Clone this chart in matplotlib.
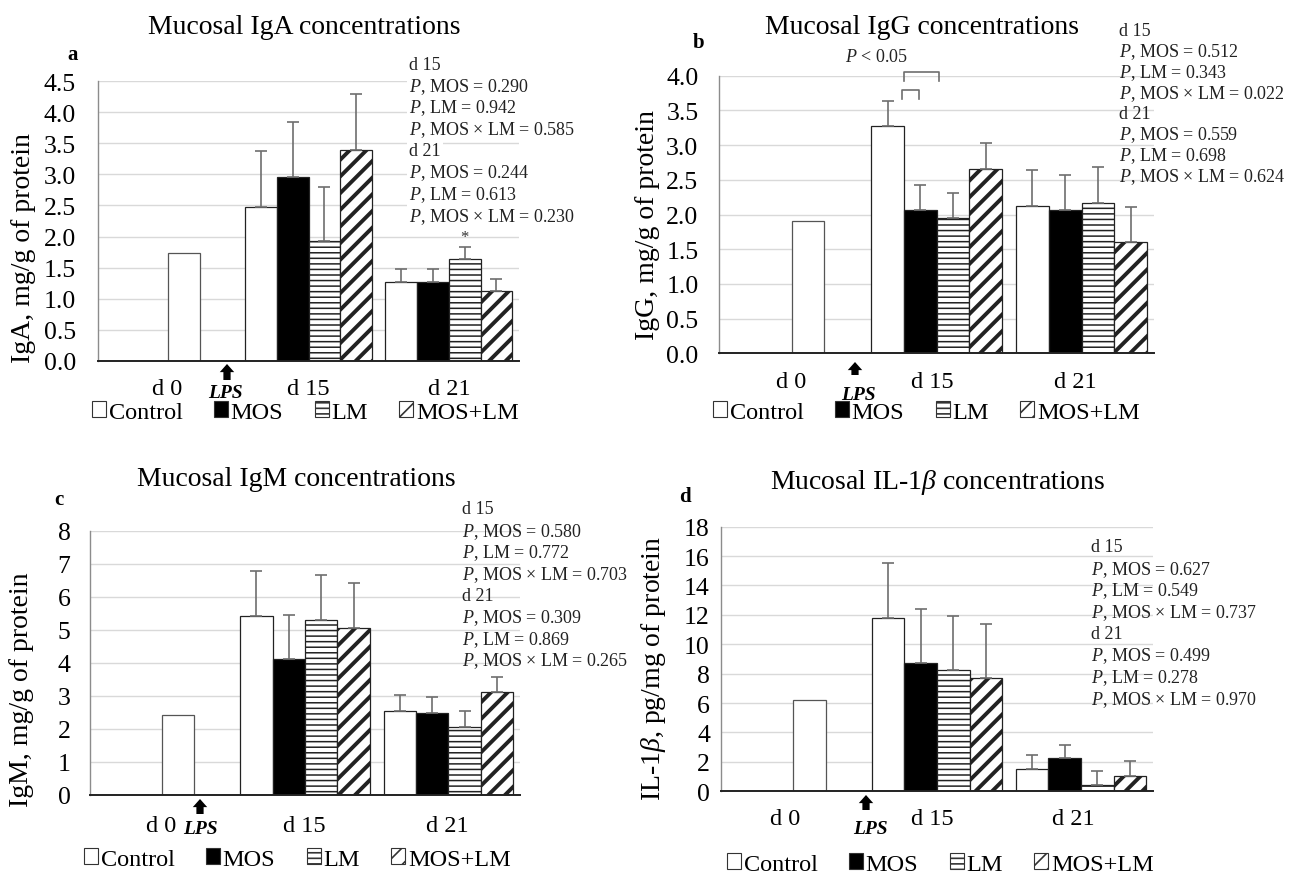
import matplotlib
matplotlib.use("Agg")
import matplotlib.pyplot as plt
from matplotlib.patches import Patch, FancyArrowPatch

plt.rcParams["font.family"] = ["Liberation Serif", "DejaVu Serif"]
plt.rcParams["mathtext.fontset"] = "custom"
plt.rcParams["mathtext.rm"] = "Liberation Serif"
plt.rcParams["mathtext.it"] = "Liberation Serif:italic"
plt.rcParams["hatch.linewidth"] = 1.2

W, H = 1289, 879

groups = ["Control", "MOS", "LM", "MOS+LM"]
days = ["d 0", "d 15", "d 21"]

iga_d0 = 1.74
iga_d15 = [2.48, 2.96, 1.92, 3.40]
iga_d15_se = [0.89, 0.89, 0.88, 0.89]
iga_d21 = [1.26, 1.26, 1.63, 1.12]
iga_d21_se = [0.21, 0.21, 0.20, 0.20]

igg_d0 = 1.90
igg_d15 = [3.27, 2.06, 1.95, 2.66]
igg_d15_se = [0.37, 0.37, 0.36, 0.37]
igg_d21 = [2.12, 2.06, 2.17, 1.60]
igg_d21_se = [0.52, 0.51, 0.51, 0.51]

igm_d0 = 2.43
igm_d15 = [5.42, 4.13, 5.30, 5.05]
igm_d15_se = [1.36, 1.33, 1.36, 1.37]
igm_d21 = [2.53, 2.49, 2.07, 3.12]
igm_d21_se = [0.49, 0.48, 0.46, 0.46]

il_d0 = 6.23
il_d15 = [11.78, 8.70, 8.23, 7.68]
il_d15_se = [3.74, 3.70, 3.69, 3.67]
il_d21 = [1.52, 2.24, 0.45, 1.07]
il_d21_se = [0.95, 0.93, 0.96, 0.98]

stats_a = ["d 15", "$P$, MOS = 0.290", "$P$, LM = 0.942", "$P$, MOS × LM = 0.585",
           "d 21", "$P$, MOS = 0.244", "$P$, LM = 0.613", "$P$, MOS × LM = 0.230"]
stats_b = ["d 15", "$P$, MOS = 0.512", "$P$, LM = 0.343", "$P$, MOS × LM = 0.022",
           "d 21", "$P$, MOS = 0.559", "$P$, LM = 0.698", "$P$, MOS × LM = 0.624"]
stats_c = ["d 15", "$P$, MOS = 0.580", "$P$, LM = 0.772", "$P$, MOS × LM = 0.703",
           "d 21", "$P$, MOS = 0.309", "$P$, LM = 0.869", "$P$, MOS × LM = 0.265"]
stats_d = ["d 15", "$P$, MOS = 0.627", "$P$, LM = 0.549", "$P$, MOS × LM = 0.737",
           "d 21", "$P$, MOS = 0.499", "$P$, LM = 0.278", "$P$, MOS × LM = 0.970"]

faces = ["white", "black", "white", "white"]
hatches = [None, None, "---", "//"]
hatch_lw = [1.0, 1.0, 1.1, 2.8]
bw = 0.226
offs = [(i - 1.5) * bw for i in range(4)]

fig = plt.figure(figsize=(W / 100, H / 100), dpi=100)


def px_axes(l, r, t, b):
    return fig.add_axes([l / W, 1 - b / H, (r - l) / W, (b - t) / H])


def ftext(x, y, s, **kw):
    kw.setdefault("va", "center")
    return fig.text(x / W, 1 - y / H, s, **kw)


def style_bar(p, i):
    if hatches[i]:
        p.set_hatch(hatches[i])
    if hasattr(p, "set_hatch_linewidth"):
        p.set_hatch_linewidth(hatch_lw[i])


def panel(ax, d0, d15, d15_se, d21, d21_se, ymax, step, fmt, pad):
    # d0 has only the control value, drawn in the third slot
    ax.bar(0 + offs[2], d0, bw, color="white", edgecolor="#555555", lw=0.9, zorder=2)
    for i in range(4):
        vals = [d15[i], d21[i]]
        errs = [d15_se[i], d21_se[i]]
        bars = ax.bar([1 + offs[i], 2 + offs[i]], vals, bw, color=faces[i],
                      edgecolor="#222222", lw=0.9, zorder=2)
        for p in bars:
            style_bar(p, i)
        ax.errorbar([1 + offs[i], 2 + offs[i]], vals, yerr=[[0, 0], errs],
                    fmt="none", ecolor="#6e6e6e", elinewidth=1.2, capsize=4,
                    capthick=1.2, zorder=3)
    ax.set_xlim(-0.5, 2.5)
    ax.set_ylim(0, ymax)
    ticks = [k * step for k in range(int(round(ymax / step)) + 1)]
    ax.set_yticks(ticks)
    ax.set_yticklabels([fmt.format(t) for t in ticks])
    ax.set_xticks([])
    ax.tick_params(axis="y", length=0, labelsize=18.5, pad=pad)
    ax.grid(axis="y", color="#d9d9d9", lw=1.0, zorder=0)
    ax.set_axisbelow(True)
    for s in ["top", "right"]:
        ax.spines[s].set_visible(False)
    ax.spines["left"].set_color("#8c8c8c")
    ax.spines["left"].set_linewidth(1.0)
    ax.spines["bottom"].set_color("#222222")
    ax.spines["bottom"].set_linewidth(1.4)
    ax.spines["bottom"].set_zorder(4)


def legend_at(x, y, gap):
    handles = []
    for i in range(4):
        h = Patch(facecolor=faces[i], edgecolor="#333333", lw=0.8, hatch=hatches[i])
        handles.append(h)
    fig.legend(handles, groups, loc="center left", bbox_to_anchor=(x / W, 1 - y / H),
               ncol=4, frameon=False, fontsize=17.5, handlelength=0.58, handleheight=0.58,
               handletextpad=0.1, columnspacing=gap, borderpad=0, borderaxespad=0)


def lps(x, y_tail, y_head, tx, ty):
    arr = FancyArrowPatch((x / W, 1 - y_tail / H), (x / W, 1 - y_head / H),
                          transform=fig.transFigure,
                          arrowstyle="simple,head_length=0.45,head_width=0.8,tail_width=0.4",
                          mutation_scale=13, color="black", lw=0, shrinkA=0, shrinkB=0)
    fig.add_artist(arr)
    ftext(tx, ty, "LPS", ha="center", fontsize=14, fontweight="bold", style="italic")


def stats(x, y0, dy, lines, box):
    for k, s in enumerate(lines):
        kw = dict(ha="left", fontsize=13, color="#222222")
        if box:
            kw["bbox"] = dict(facecolor="white", edgecolor="none", pad=1.5)
        ftext(x, y0 + k * dy, s, **kw)


def day_labels(xs, y):
    for x, s in zip(xs, days):
        ftext(x, y, s, ha="center", fontsize=17.5)


# panel a
ax = px_axes(98.3, 519, 82.3, 361.7)
panel(ax, iga_d0, iga_d15, iga_d15_se, iga_d21, iga_d21_se, 4.5, 0.5, "{:.1f}", 16)
ax.text(2 + offs[2], iga_d21[2] + iga_d21_se[2] + 0.04, "*", ha="center", va="bottom",
        fontsize=12, color="#333333")
ftext(304, 27, "Mucosal IgA concentrations", ha="center", fontsize=20)
ftext(73, 55, "a", ha="center", fontsize=15, fontweight="bold")
ftext(24, 248, "IgA, mg/g of protein", ha="center", rotation=90, fontsize=20)
stats(409, 65, 21.7, stats_a, True)
day_labels([167, 308, 449], 390)
lps(227, 381, 365, 225, 394)
legend_at(92, 413, 1.3)

# panel b
ax = px_axes(719.3, 1154, 76.7, 354.3)
panel(ax, igg_d0, igg_d15, igg_d15_se, igg_d21, igg_d21_se, 4.0, 0.5, "{:.1f}", 15)
ax.plot([0.758, 0.758, 0.879, 0.879], [3.67, 3.79, 3.79, 3.67], color="#6e6e6e",
        lw=1.2, clip_on=False, zorder=5)
ax.plot([0.776, 0.776, 1.017, 1.017], [3.93, 4.05, 4.05, 3.93], color="#6e6e6e",
        lw=1.2, clip_on=False, zorder=5)
ftext(922, 28, "Mucosal IgG concentrations", ha="center", fontsize=20)
ftext(699, 43, "b", ha="center", fontsize=15, fontweight="bold")
ftext(877, 58, "$P$ < 0.05", ha="center", fontsize=13, color="#222222")
ftext(648, 225, "IgG, mg/g of protein", ha="center", rotation=90, fontsize=20)
stats(1119, 31.7, 20.7, stats_b, False)
day_labels([791, 932, 1075], 383)
lps(855, 376, 363, 858, 396)
legend_at(713, 413, 1.3)

# panel c
ax = px_axes(90, 520, 531.7, 796)
panel(ax, igm_d0, igm_d15, igm_d15_se, igm_d21, igm_d21_se, 8, 1, "{:.0f}", 14)
ftext(296, 480, "Mucosal IgM concentrations", ha="center", fontsize=20)
ftext(59, 500, "c", ha="center", fontsize=15, fontweight="bold")
ftext(22, 690, "IgM, mg/g of protein", ha="center", rotation=90, fontsize=20)
stats(462, 510, 21.6, stats_c, False)
day_labels([161, 304, 447], 827)
lps(200, 815, 800, 200, 830)
legend_at(84, 860, 1.3)

# panel d
ax = px_axes(721, 1153, 527.6, 792.3)
panel(ax, il_d0, il_d15, il_d15_se, il_d21, il_d21_se, 18, 2, "{:.0f}", 8)
ftext(938, 483, "Mucosal IL-1$\\beta$ concentrations", ha="center", fontsize=20)
ftext(685, 497, "d", ha="center", fontsize=15, fontweight="bold")
ftext(654, 668, "IL-1$\\beta$, pg/mg of protein", ha="center", rotation=90, fontsize=20)
stats(1091, 548, 21.7, stats_d, False)
day_labels([785, 932, 1073], 820)
lps(866, 811, 796, 870, 830)
legend_at(727, 865, 1.3)

fig.savefig("out.png", dpi=100, facecolor="white")
